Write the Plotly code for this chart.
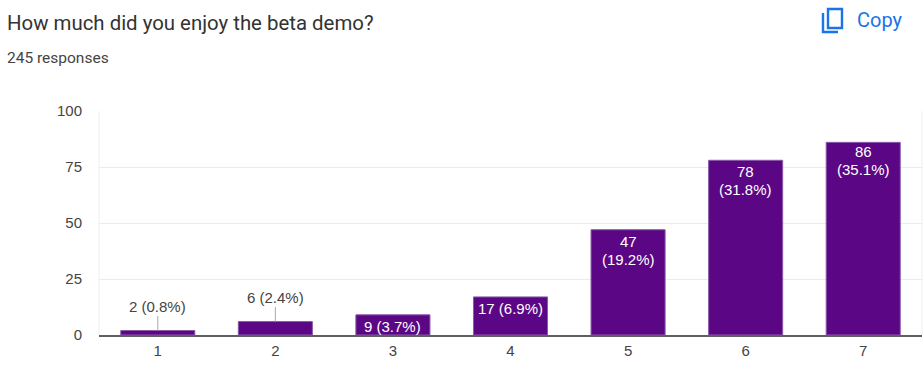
import plotly.graph_objects as go

categories = ["1", "2", "3", "4", "5", "6", "7"]
values = [2, 6, 9, 17, 47, 78, 86]
labels = ["2 (0.8%)", "6 (2.4%)", "9 (3.7%)", "17 (6.9%)", "47<br>(19.2%)", "78<br>(31.8%)", "86<br>(35.1%)"]
y_ticks = [0, 25, 50, 75, 100]

W, H = 924, 378
L, R, T, B = 99, 2, 111, 43
PW, PH = W - L - R, H - T - B
px = lambda x: (x - L) / PW
py = lambda y: (H - B - y) / PH

PURPLE = "#5b0785"
BLUE = "#1a73e8"

fig = go.Figure(go.Bar(
    x=categories, y=values, width=0.63,
    marker=dict(color=PURPLE, line=dict(color="#8a5aa8", width=1)),
    hoverinfo="skip",
))

annotations = []
shapes = []
for i, (v, t) in enumerate(zip(values, labels)):
    if v < 9:
        top = v + 6.5
        shapes.append(dict(type="line", xref="x", yref="y", x0=i, x1=i, y0=v, y1=top,
                           line=dict(color="#a8a8a8", width=1), layer="above"))
        annotations.append(dict(x=i, y=top, xref="x", yref="y", text=t, showarrow=False,
                                yanchor="bottom", yshift=-1,
                                font=dict(family="Liberation Sans", size=15, color="#444444")))
    else:
        start = 1 if v == 86 else -1
        for j, line in enumerate(t.split("<br>")):
            annotations.append(dict(x=i, y=v, xref="x", yref="y", text=line, showarrow=False,
                                    yanchor="top", yshift=start - j * 18,
                                    font=dict(family="Liberation Sans", size=15, color="#ffffff")))

def ptext(x, y, text, size, color, family="Roboto", xanchor="left"):
    annotations.append(dict(xref="paper", yref="paper", x=px(x), y=py(y), text=text, showarrow=False,
                            xanchor=xanchor, yanchor="middle", xshift=-2,
                            font=dict(family=family, size=size, color=color)))

ptext(7, 23, "How much did you enjoy the beta demo?", 20.4, "#333333")
ptext(7, 58, "245 responses", 15.5, "#444444")
ptext(857, 20, "Copy", 20, BLUE)

# copy icon
shapes.append(dict(type="rect", xref="paper", yref="paper", x0=px(828), x1=px(842), y0=py(9), y1=py(28),
                   line=dict(color=BLUE, width=2.4), layer="above"))
shapes.append(dict(type="path", xref="paper", yref="paper",
                   path=f"M {px(823)} {py(13)} L {px(823)} {py(32)} L {px(838)} {py(32)}",
                   line=dict(color=BLUE, width=2.4), layer="above"))
# plot frame edges
shapes.append(dict(type="line", xref="paper", yref="paper", x0=0, x1=0, y0=0, y1=1,
                   line=dict(color="#efefef", width=1), layer="below"))
shapes.append(dict(type="line", xref="paper", yref="paper", x0=1, x1=1, y0=0, y1=1,
                   line=dict(color="#efefef", width=1), layer="below"))

fig.update_layout(
    width=W, height=H,
    margin=dict(l=L, r=R, t=T, b=B, pad=0),
    paper_bgcolor="white", plot_bgcolor="white",
    showlegend=False,
    font=dict(family="Liberation Sans", size=15, color="#444444"),
    annotations=annotations, shapes=shapes,
    xaxis=dict(type="category", categoryorder="array", categoryarray=categories,
               range=[-0.5, 6.5], showgrid=False, showline=True, linecolor="#5f5f5f", linewidth=2,
               ticks="outside", ticklen=1, tickcolor="rgba(0,0,0,0)",
               tickfont=dict(family="Liberation Sans", size=15, color="#444444"), zeroline=False),
    yaxis=dict(range=[0, 100], tickvals=y_ticks, ticks="outside", ticklen=13, tickcolor="rgba(0,0,0,0)",
               gridcolor="#ebebeb", gridwidth=1, zeroline=False, showline=False,
               tickfont=dict(family="Liberation Sans", size=15, color="#444444")),
)
fig.write_html("out.html", config=dict(displayModeBar=False),
               post_script="document.body.style.margin='0';document.documentElement.style.overflow='hidden';")
